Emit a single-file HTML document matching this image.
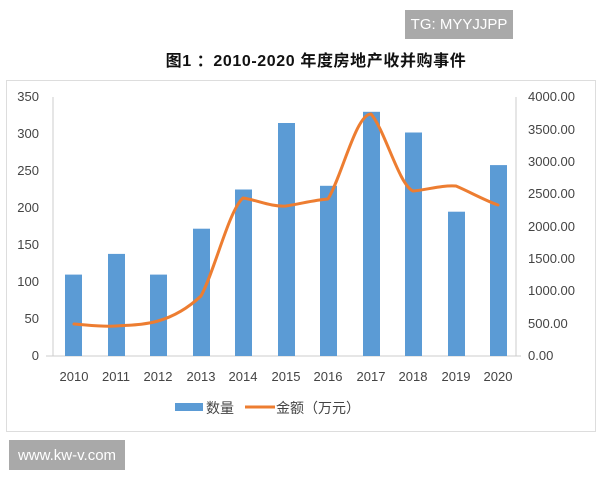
<!DOCTYPE html>
<html><head><meta charset="utf-8"><style>
body{margin:0;width:600px;height:480px;background:#fff;overflow:hidden;position:relative;font-family:"Liberation Sans","Noto Sans CJK SC",sans-serif}
.box{position:absolute;background:#a9a9a9;color:#fff;font-size:15px;display:flex;align-items:center;justify-content:center}
</style></head><body>
<div class="box" style="left:405px;top:10px;width:108px;height:29px">TG: MYYJJPP</div>
<div class="box" style="left:9px;top:440px;width:116px;height:30px">www.kw-v.com</div>
<svg width="600" height="480" style="position:absolute;left:0;top:0">
<rect x="6.5" y="80.5" width="589" height="351" fill="none" stroke="#ddd"/>
<text x="316" y="66" text-anchor="middle" font-size="16" font-weight="bold" fill="#111" letter-spacing="0.6">图1 ：2010-2020 年度房地产收并购事件</text>
<g font-size="13" fill="#444">
<text x="39" y="101" text-anchor="end">350</text>
<text x="39" y="138" text-anchor="end">300</text>
<text x="39" y="175" text-anchor="end">250</text>
<text x="39" y="212" text-anchor="end">200</text>
<text x="39" y="249" text-anchor="end">150</text>
<text x="39" y="286" text-anchor="end">100</text>
<text x="39" y="323" text-anchor="end">50</text>
<text x="39" y="360" text-anchor="end">0</text>
<text x="528" y="101">4000.00</text>
<text x="528" y="134">3500.00</text>
<text x="528" y="166">3000.00</text>
<text x="528" y="198">2500.00</text>
<text x="528" y="231">2000.00</text>
<text x="528" y="263">1500.00</text>
<text x="528" y="295">1000.00</text>
<text x="528" y="328">500.00</text>
<text x="528" y="360">0.00</text>
</g>
<line x1="53" y1="97" x2="53" y2="356" stroke="#ccc"/>
<line x1="516" y1="97" x2="516" y2="356" stroke="#ccc"/>
<line x1="46" y1="356" x2="521" y2="356" stroke="#ccc"/>
<g fill="#5b9bd5">
<rect x="65" y="274.6" width="17" height="81.4"/>
<rect x="108" y="253.9" width="17" height="102.1"/>
<rect x="150" y="274.6" width="17" height="81.4"/>
<rect x="193" y="228.7" width="17" height="127.3"/>
<rect x="235" y="189.5" width="17" height="166.5"/>
<rect x="278" y="123" width="17" height="233"/>
<rect x="320" y="185.8" width="17" height="170.2"/>
<rect x="363" y="111.8" width="17" height="244.2"/>
<rect x="405" y="132.5" width="17" height="223.5"/>
<rect x="448" y="211.7" width="17" height="144.3"/>
<rect x="490" y="165.1" width="17" height="190.9"/>
</g>
<path d="M74,324 C88,325 102,327 116,326 C130,325 144,325 158,321 C172,317 186,310 201,296 C215,270 229,210 243,198 C257,200 271,207 286,206 C300,204 314,200 328,199 C342,176 356,114 371,114 C385,130 399,185 413,191 C427,190 441,185 456,186 C470,192 484,200 498,205" fill="none" stroke="#ed7d31" stroke-width="3" stroke-linejoin="round" stroke-linecap="round"/>
<g font-size="13" fill="#444" text-anchor="middle">
<text x="74" y="381">2010</text><text x="116" y="381">2011</text><text x="158" y="381">2012</text><text x="201" y="381">2013</text><text x="243" y="381">2014</text><text x="286" y="381">2015</text><text x="328" y="381">2016</text><text x="371" y="381">2017</text><text x="413" y="381">2018</text><text x="456" y="381">2019</text><text x="498" y="381">2020</text>
</g>
<rect x="175" y="403" width="28" height="8" fill="#5b9bd5"/>
<text x="206" y="413" font-size="14" fill="#444">数量</text>
<line x1="245" y1="407" x2="275" y2="407" stroke="#ed7d31" stroke-width="3"/>
<text x="276" y="413" font-size="14" fill="#444">金额（万元）</text>
</svg>
</body></html>
